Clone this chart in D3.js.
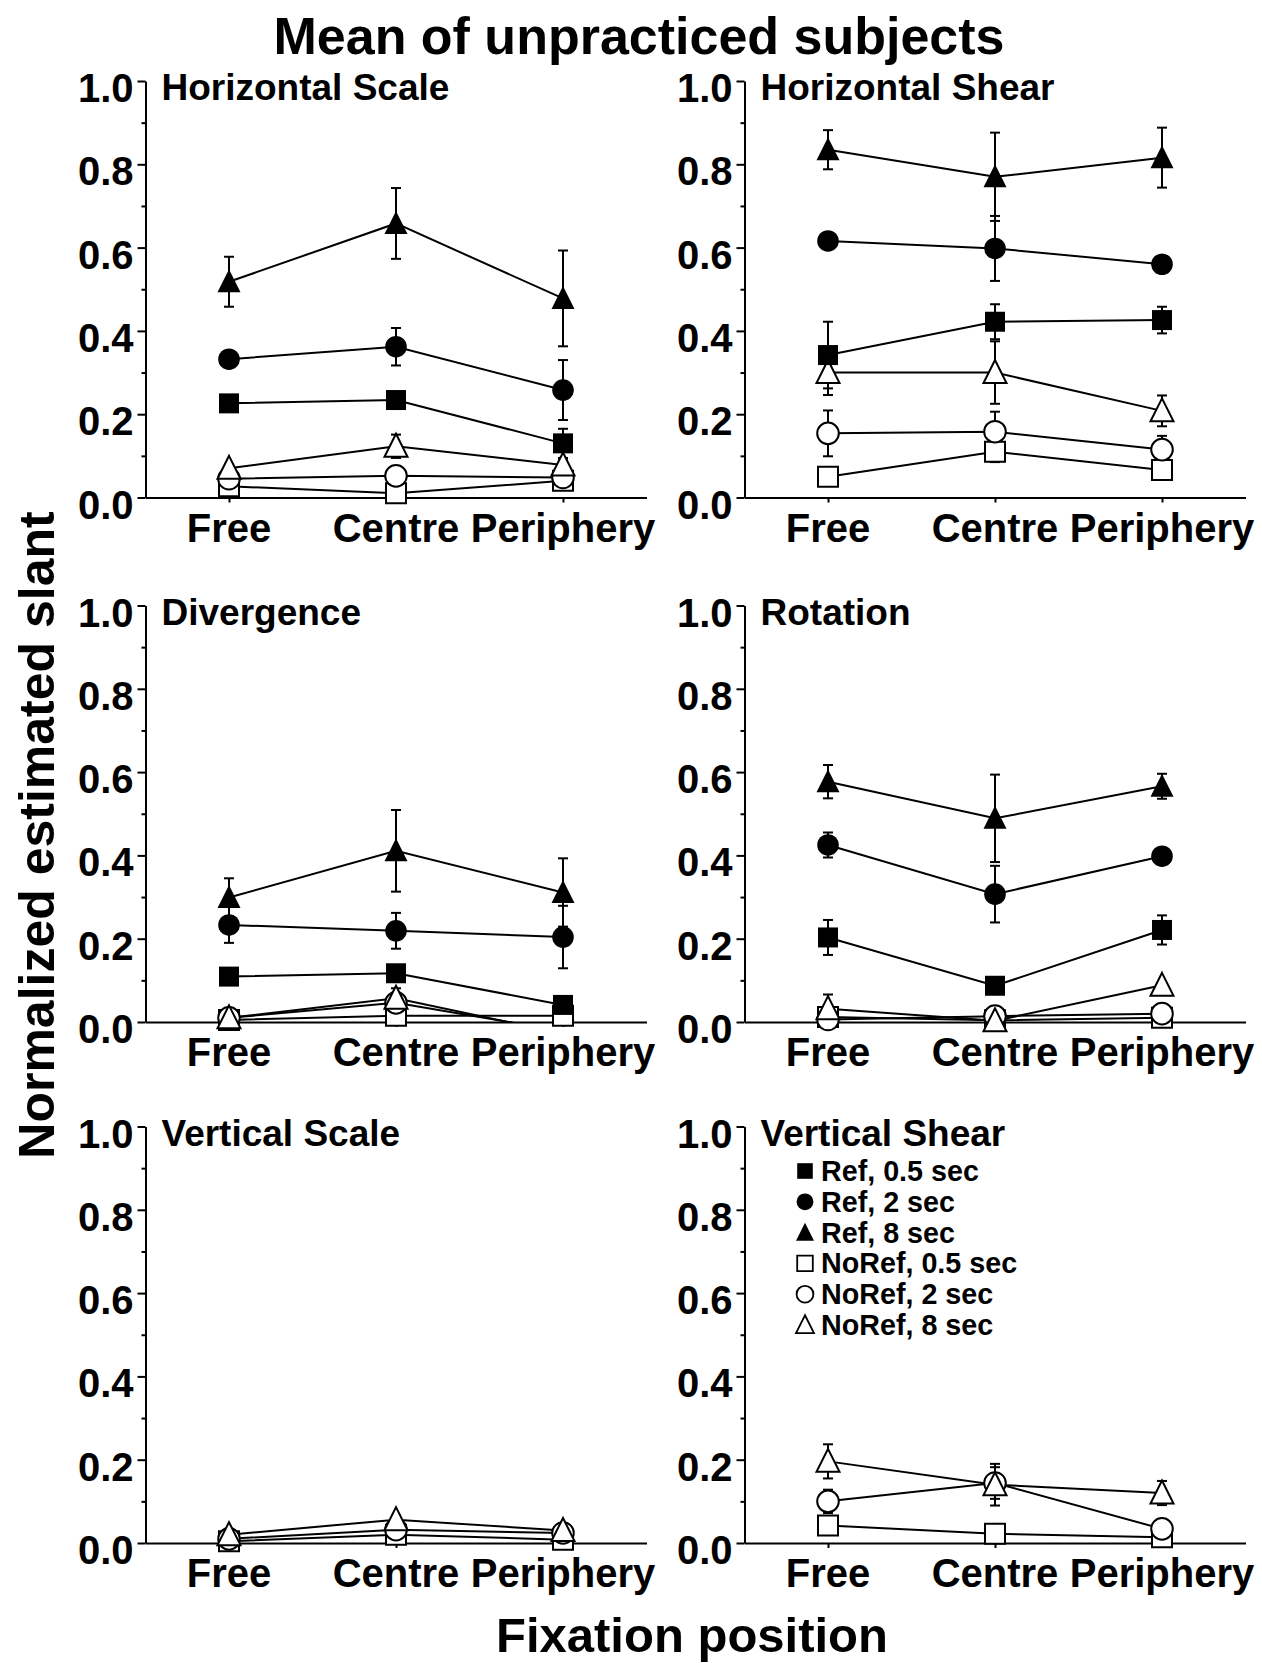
<!DOCTYPE html>
<html>
<head>
<meta charset="utf-8">
<script src="https://cdn.jsdelivr.net/npm/d3@7"></script>
<style>
  html, body { margin: 0; padding: 0; background: #fff; }
  svg text { font-family: "Liberation Sans", Arial, Helvetica, sans-serif; font-weight: bold; fill: #000; }
</style>
</head>
<body>
<svg id="chart" width="1262" height="1663"></svg>
<script>
// ---------------- DATA ----------------
const categories = ["Free", "Centre", "Periphery"];
const seriesNames = ["Ref, 0.5 sec", "Ref, 2 sec", "Ref, 8 sec", "NoRef, 0.5 sec", "NoRef, 2 sec", "NoRef, 8 sec"];
const seriesShapes = ["square", "circle", "triangle", "square", "circle", "triangle"];
const seriesFilled = [true, true, true, false, false, false];
const yTicksMajor = [0, 0.2, 0.4, 0.6, 0.8, 1.0];
const yTicksMinor = [0.1, 0.3, 0.5, 0.7, 0.9];
const yTickLabels = ["0.0", "0.2", "0.4", "0.6", "0.8", "1.0"];
const panelTitles = ["Horizontal Scale", "Horizontal Shear", "Divergence", "Rotation", "Vertical Scale", "Vertical Shear"];

// values per series (order of seriesNames) at Free, Centre, Periphery; null = not plotted
const horizontalScaleValues = [
  [0.226, 0.234, 0.130], [0.332, 0.362, 0.258], [0.518, 0.658, 0.478],
  [0.027, 0.010, 0.040], [0.045, 0.052, 0.048], [0.070, 0.123, 0.078]];
const horizontalScaleErrors = [
  [0, 0, 0.035], [0, 0.045, 0.072], [0.060, 0.085, 0.115],
  [0, 0, 0], [0, 0, 0], [0.010, 0.028, 0.015]];

const horizontalShearValues = [
  [0.342, 0.422, 0.426], [0.616, 0.598, 0.560], [0.835, 0.770, 0.816],
  [0.050, 0.110, 0.066], [0.154, 0.158, 0.115], [0.300, 0.300, 0.208]];
const horizontalShearErrors = [
  [0.080, 0.042, 0.032], [0, 0.078, 0], [0.047, 0.106, 0.072],
  [0, 0.025, 0], [0.055, 0.048, 0.033], [0.054, 0.075, 0.037]];

const divergenceValues = [
  [0.109, 0.117, 0.041], [0.233, 0.219, 0.204], [0.299, 0.411, 0.311],
  [0.005, 0.015, 0.015], [0.010, 0.046, -0.022], [0.010, 0.057, -0.028]];
const divergenceErrors = [
  [0, 0, 0], [0.043, 0.043, 0.075], [0.046, 0.098, 0.082],
  [0, 0, 0], [0, 0, 0], [0, 0.024, 0]];

const rotationValues = [
  [0.203, 0.087, 0.221], [0.425, 0.307, 0.398], [0.577, 0.489, 0.566],
  [0.012, 0.004, 0.010], [0.006, 0.014, 0.020], [0.032, 0.003, 0.088]];
const rotationErrors = [
  [0.042, 0, 0.035], [0.030, 0.068, 0.015], [0.040, 0.105, 0.030],
  [0, 0, 0], [0, 0, 0], [0.034, 0, 0]];

const verticalScaleValues = [
  null, null, null,
  [0.004, 0.020, 0.008], [0.010, 0.032, 0.024], [0.020, 0.056, 0.030]];
const verticalScaleErrors = [
  null, null, null,
  [0, 0, 0], [0, 0, 0], [0, 0.010, 0]];

const verticalShearValues = [
  null, null, null,
  [0.042, 0.022, 0.014], [0.100, 0.144, 0.034], [0.196, 0.140, 0.120]];
const verticalShearErrors = [
  null, null, null,
  [0, 0, 0], [0.028, 0.038, 0], [0.041, 0.050, 0.029]];

const panelValues = [horizontalScaleValues, horizontalShearValues, divergenceValues, rotationValues, verticalScaleValues, verticalShearValues];
const panelErrors = [horizontalScaleErrors, horizontalShearErrors, divergenceErrors, rotationErrors, verticalScaleErrors, verticalShearErrors];

// ---------------- LAYOUT ----------------
const svg = d3.select("#chart");
const colX = [145.5, 744.5];
const rowY = [81, 605.5, 1126.5];
const plotW = 501, plotH = 416.5;

const x = d3.scalePoint().domain(categories).range([0, plotW]).padding(0.5);
const y = d3.scaleLinear().domain([0, 1]).range([plotH, 0]);

function stext(g, px, py, str, size, anchor) {
  return g.append("text")
    .attr("x", px).attr("y", py)
    .attr("text-anchor", anchor)
    .style("font-size", size + "px")
    .text(str);
}

function markerPath(shape, big) {
  const k = big ? 1 : 0.78;
  if (shape === "square") { const s = 10 * k; return `M${-s},${-s}H${s}V${s}H${-s}Z`; }
  if (shape === "circle") { const r = 10.8 * k; return `M${r},0A${r},${r} 0 1,1 ${-r},0A${r},${r} 0 1,1 ${r},0Z`; }
  const hw = 11.5 * k, top = -12.5 * k, bot = 10.5 * k;
  return `M0,${top}L${hw},${bot}L${-hw},${bot}Z`;
}

svg.append("defs").append("clipPath").attr("id", "plotclip")
  .append("rect").attr("x", -10).attr("y", -40).attr("width", plotW + 20).attr("height", plotH + 40);

panelTitles.forEach((title, p) => {
  const col = p % 2, row = Math.floor(p / 2);
  const g = svg.append("g").attr("transform", `translate(${colX[col]},${rowY[row]})`);

  // y axis (major + minor)
  const yMaj = g.append("g").call(d3.axisLeft(y).tickValues(yTicksMajor).tickSize(8).tickSizeOuter(0).tickFormat(""));
  const yMin = g.append("g").call(d3.axisLeft(y).tickValues(yTicksMinor).tickSize(4).tickSizeOuter(0).tickFormat(""));
  yMin.select(".domain").remove();
  // x axis
  const xAx = g.append("g").attr("transform", `translate(0,${plotH})`)
    .call(d3.axisBottom(x).tickSize(5).tickSizeOuter(0).tickFormat(""));
  [yMaj, yMin, xAx].forEach(a => {
    a.selectAll("path,line").attr("stroke", "#000").attr("stroke-width", 2);
  });

  yTicksMajor.forEach((t, i) => stext(g, -12, y(t) + 21, yTickLabels[i], 40, "end"));
  categories.forEach(c => stext(g, x(c), plotH + 44, c, 40, "middle"));
  stext(g, 16, 19, title, 37, "start");

  const vals = panelValues[p], errs = panelErrors[p];
  const line = d3.line().x((d, i) => x(categories[i])).y(d => y(d));
  const lineLayer = g.append("g").attr("clip-path", "url(#plotclip)");
  const errLayer = g.append("g");
  const markLayer = g.append("g");
  const order = [3, 4, 5, 0, 1, 2];
  order.forEach(s => {
    if (!vals[s]) return;
    lineLayer.append("path").datum(vals[s]).attr("d", line)
      .attr("fill", "none").attr("stroke", "#000").attr("stroke-width", 2);
  });
  order.forEach(s => {
    if (!vals[s]) return;
    vals[s].forEach((v, i) => {
      const e = errs[s][i];
      if (!e || v < 0) return;
      const cx = x(categories[i]);
      const y1 = y(v + e), y2 = y(Math.max(0, v - e));
      errLayer.append("line").attr("x1", cx).attr("x2", cx).attr("y1", y1).attr("y2", y2)
        .attr("stroke", "#000").attr("stroke-width", 2);
      errLayer.append("line").attr("x1", cx - 5).attr("x2", cx + 5).attr("y1", y1).attr("y2", y1)
        .attr("stroke", "#000").attr("stroke-width", 2);
      errLayer.append("line").attr("x1", cx - 5).attr("x2", cx + 5).attr("y1", y2).attr("y2", y2)
        .attr("stroke", "#000").attr("stroke-width", 2);
    });
  });
  order.forEach(s => {
    if (!vals[s]) return;
    vals[s].forEach((v, i) => {
      if (v < 0) return;
      markLayer.append("path")
        .attr("d", markerPath(seriesShapes[s], true))
        .attr("transform", `translate(${x(categories[i])},${y(v)})`)
        .attr("fill", seriesFilled[s] ? "#000" : "#fff")
        .attr("stroke", "#000").attr("stroke-width", seriesFilled[s] ? 0 : 2);
    });
  });

  // legend in the Vertical Shear panel
  if (p === 5) {
    const lg = svg.append("g");
    seriesNames.forEach((name, s) => {
      const cy = 1171 + s * 30.8;
      lg.append("path").attr("d", markerPath(seriesShapes[s], false))
        .attr("transform", `translate(805,${cy})`)
        .attr("fill", seriesFilled[s] ? "#000" : "#fff")
        .attr("stroke", "#000").attr("stroke-width", seriesFilled[s] ? 0 : 1.8);
      stext(lg, 821, cy + 10, name, 28.7, "start");
    });
  }
});

// titles
stext(svg, 639, 54, "Mean of unpracticed subjects", 52, "middle");
stext(svg, 692, 1652, "Fixation position", 49, "middle");
svg.append("text")
  .attr("transform", "translate(54,835) rotate(-90)")
  .attr("text-anchor", "middle")
  .style("font-size", "50px")
  .text("Normalized estimated slant");
</script>
</body>
</html>
